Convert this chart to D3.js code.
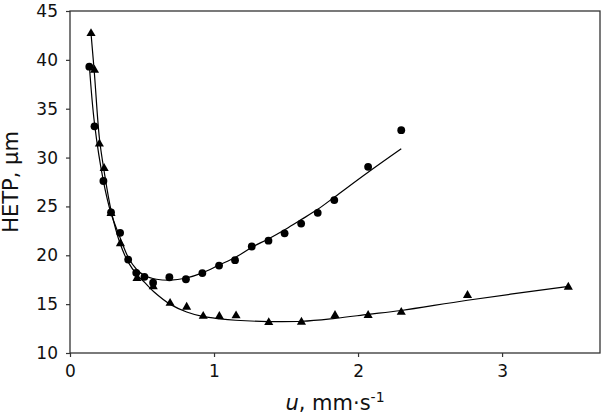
<!DOCTYPE html>
<html>
<head>
<meta charset="utf-8">
<script src="https://cdn.jsdelivr.net/npm/d3@7"></script>
<style>
  body { margin: 0; background: #fff; }
  svg { display: block; font-family: "DejaVu Sans", sans-serif; }
</style>
</head>
<body>
<svg id="chart" width="606" height="416"></svg>
<script>
// -----------------------------
// Data
// -----------------------------
const xTicks = [0, 1, 2, 3];
const yTicks = [10, 15, 20, 25, 30, 35, 40, 45];

// circles: measured points
const circleU = [0.134, 0.17, 0.232, 0.285, 0.348, 0.404, 0.46, 0.517, 0.577, 0.69, 0.805,
  0.919, 1.035, 1.146, 1.262, 1.378, 1.49, 1.605, 1.72, 1.835, 2.07, 2.3];
const circleH = [39.3, 33.2, 27.6, 24.4, 22.3, 19.56, 18.2, 17.8, 17.2, 17.75, 17.55,
  18.18, 18.95, 19.5, 20.9, 21.5, 22.25, 23.25, 24.35, 25.65, 29.05, 32.8];

// triangles: measured points
const triU = [0.146, 0.17, 0.204, 0.237, 0.285, 0.35, 0.465, 0.578, 0.695, 0.81, 0.925,
  1.037, 1.153, 1.38, 1.607, 1.84, 2.07, 2.3, 2.76, 3.46];
const triH = [42.7, 38.95, 31.4, 28.9, 24.3, 21.2, 17.65, 16.8, 15.1, 14.7, 13.77,
  13.75, 13.82, 13.13, 13.17, 13.85, 13.85, 14.18, 15.9, 16.75];

// fitted curves
const circleFitU = [0.134, 0.17, 0.232, 0.285, 0.348, 0.404, 0.46, 0.52, 0.6, 0.7, 0.8,
  0.92, 1.035, 1.15, 1.26, 1.38, 1.5, 1.6, 1.72, 1.84, 2.07, 2.3];
const circleFitH = [39.5, 33.5, 27.6, 24.3, 21.8, 19.8, 18.6, 17.9, 17.55, 17.45, 17.65,
  18.2, 19.0, 19.8, 20.8, 21.7, 22.7, 23.6, 24.7, 26.0, 28.5, 30.9];

const triFitU = [0.146, 0.17, 0.204, 0.237, 0.285, 0.348, 0.404, 0.466, 0.52, 0.58, 0.7,
  0.81, 0.92, 1.04, 1.15, 1.38, 1.61, 1.84, 2.07, 2.3, 2.76, 3.45];
const triFitH = [42.7, 38.5, 32.0, 28.6, 24.6, 21.2, 19.3, 18.0, 17.2, 16.3, 14.95,
  14.2, 13.75, 13.5, 13.35, 13.22, 13.25, 13.55, 13.95, 14.35, 15.4, 16.8];

// -----------------------------
// Layout
// -----------------------------
const svg = d3.select("#chart");
const plotLeft = 70, plotRight = 600, plotTop = 11, plotBottom = 353;

const x = d3.scaleLinear().domain([0, 3.68]).range([plotLeft, plotRight]);
const y = d3.scaleLinear().domain([10, 45]).range([plotBottom, plotTop]);

const axisColor = "#333";

// frame
svg.append("rect")
  .attr("x", plotLeft).attr("y", plotTop)
  .attr("width", plotRight - plotLeft).attr("height", plotBottom - plotTop)
  .attr("fill", "none")
  .attr("stroke", axisColor)
  .attr("stroke-width", 1.3);

// axes
svg.append("g")
  .attr("transform", `translate(0,${plotBottom})`)
  .call(d3.axisBottom(x).tickValues(xTicks).tickSize(4).tickPadding(8).tickFormat(d3.format("d")))
  .call(g => g.select(".domain").remove())
  .call(g => g.selectAll("line").attr("stroke", axisColor).attr("stroke-width", 1.2))
  .call(g => g.selectAll("text").attr("fill", "#111").style("font-size", "17px")
    .style("font-family", "DejaVu Sans"));

svg.append("g")
  .attr("transform", `translate(${plotLeft},0)`)
  .call(d3.axisLeft(y).tickValues(yTicks).tickSize(4).tickPadding(8))
  .call(g => g.select(".domain").remove())
  .call(g => g.selectAll("line").attr("stroke", axisColor).attr("stroke-width", 1.2))
  .call(g => g.selectAll("text").attr("fill", "#111").style("font-size", "17px")
    .style("font-family", "DejaVu Sans"));

// axis titles
const xTitle = svg.append("text")
  .attr("x", (plotLeft + plotRight) / 2)
  .attr("y", 410)
  .attr("text-anchor", "middle")
  .style("font-size", "21px")
  .attr("fill", "#111");
xTitle.append("tspan").style("font-style", "italic").text("u");
xTitle.append("tspan").text(", mm\u00B7s");
xTitle.append("tspan").attr("dy", -8).style("font-size", "14px").text("-1");

svg.append("text")
  .attr("transform", `translate(18,${(plotTop + plotBottom) / 2}) rotate(-90)`)
  .attr("text-anchor", "middle")
  .style("font-size", "21px")
  .attr("fill", "#111")
  .text("HETP, \u00B5m");

// -----------------------------
// Fit curves
// -----------------------------
const line = d3.line()
  .x(d => x(d[0]))
  .y(d => y(d[1]))
  .curve(d3.curveCatmullRom.alpha(0.5));

const circleFit = d3.zip(circleFitU, circleFitH);
const triFit = d3.zip(triFitU, triFitH);

svg.append("g")
  .selectAll("path")
  .data([circleFit, triFit])
  .join("path")
  .attr("d", line)
  .attr("fill", "none")
  .attr("stroke", "#000")
  .attr("stroke-width", 1.2);

// -----------------------------
// Markers
// -----------------------------
svg.append("g")
  .selectAll("circle")
  .data(d3.zip(circleU, circleH))
  .join("circle")
  .attr("cx", d => x(d[0]))
  .attr("cy", d => y(d[1]))
  .attr("r", 3.9)
  .attr("fill", "#000");

const tri = d3.symbol().type(d3.symbolTriangle).size(36);
svg.append("g")
  .selectAll("path")
  .data(d3.zip(triU, triH))
  .join("path")
  .attr("transform", d => `translate(${x(d[0])},${y(d[1])})`)
  .attr("d", tri)
  .attr("fill", "#000");
</script>
</body>
</html>
